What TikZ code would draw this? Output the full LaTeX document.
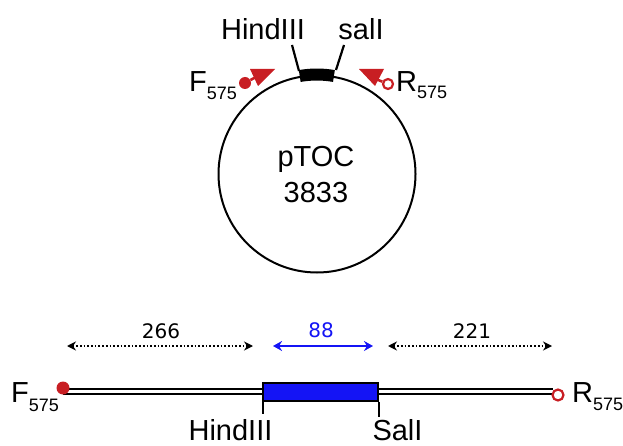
\documentclass[tikz,border=0pt]{standalone}
\usepackage{fontspec}
\setmainfont{Liberation Sans}
\newfontfamily\numfont{DejaVu Sans}
\usetikzlibrary{arrows.meta}
\definecolor{primred}{RGB}{200,30,35}
\definecolor{segblue}{RGB}{20,20,245}
\newcommand\subtxt[2]{\raisebox{-#1pt}{\fontsize{18}{18}\selectfont #2}}
\begin{document}
\begin{tikzpicture}[x=1pt,y=-1pt,
  big/.style={font=\fontsize{29}{29}\selectfont, inner sep=0pt, anchor=base},
  num/.style={font=\numfont\fontsize{20}{20}\selectfont, inner sep=0pt, anchor=base},
  dimarrow/.style={dotted, line width=1.7pt, {Stealth[length=9pt,width=9pt]}-{Stealth[length=9pt,width=9pt]}},
  bluearrow/.style={segblue, line width=2.6pt, {Stealth[length=9pt,width=10pt]}-{Stealth[length=9pt,width=10pt]}},
  siteline/.style={line width=2.2pt},
  primerline/.style={primred, line width=2.6pt},
]
\useasboundingbox (0,0) rectangle (623,446);

% ---------- plasmid ----------
\node[circle, draw, line width=2pt, minimum size=197pt, inner sep=0pt] (plasmid) at (317,174) {};
\node[big] (ptoc) at (316,167) {pTOC};
\node[big] (size) at (316,203) {3833};
\draw[line width=12pt] (plasmid.100) arc[start angle=100, end angle=80, radius=98.5pt];

\node[big] (hindtop) at (263,40) {HindIII};
\node[big] (saltop) at (361,40) {salI};
\coordinate (h1) at (292,45);
\coordinate (h2) at (299,71);
\coordinate (s1) at (344,45);
\coordinate (s2) at (336,70);
\draw[siteline] (h1) -- (h2);
\draw[siteline] (s1) -- (s2);

% primers on plasmid
\node[big, anchor=base west] (ftop) at (189,92) {F\subtxt{8}{575}};
\node[big, anchor=base west] (rtop) at (396,92) {R\subtxt{7}{575}};
\node[circle, fill=primred, minimum size=12pt, inner sep=0pt] (fdot) at (245,83) {};
\node[circle, draw=primred, line width=2.2pt, fill=white, minimum size=10pt, inner sep=0pt] (rcirc) at (388,84) {};
\coordinate (ftip) at (256,77);
\coordinate (rtip) at (371,77);
\draw[primerline] (fdot) -- (ftip);
\draw[primerline] (rcirc) -- (rtip);
\fill[primred] (250,69) -- (275,69) -- (258,86) -- cycle;
\fill[primred] (359,69) -- (384,69) -- (375,86) -- cycle;

% ---------- linear map ----------
\coordinate (lstart) at (63,391);
\coordinate (lend) at (553,391);
\draw[line width=2pt, double=white, double distance=3pt] (lstart) -- (lend);
\node[draw, line width=1.8pt, fill=segblue, minimum width=115pt, minimum height=18pt, inner sep=0pt] (seg) at (320.5,392) {};
\coordinate (t1) at ([xshift=1pt, yshift=-12pt]seg.south west);
\coordinate (t2) at ([yshift=-15pt]seg.south east);
\draw[line width=1.8pt] ([xshift=1pt]seg.south west) -- (t1);
\draw[line width=1.8pt] (seg.south east) -- (t2);

\node[circle, fill=primred, minimum size=13pt, inner sep=0pt] (fdotb) at (63,388) {};
\node[circle, draw=primred, line width=2.2pt, fill=white, minimum size=11pt, inner sep=0pt] (rcircb) at (558,395) {};

\node[big, anchor=base west] (fbot) at (11,402) {F\subtxt{9}{575}};
\node[big, anchor=base west] (rbot) at (572,402) {R\subtxt{8}{575}};
\node[big] (hindbot) at (230.5,440) {HindIII};
\node[big] (salbot) at (397.5,440) {SalI};

% dimension arrows
\coordinate (d1a) at (67,346);
\coordinate (d1b) at (253,346);
\coordinate (d2a) at (273,346);
\coordinate (d2b) at (373,346);
\coordinate (d3a) at (388,346);
\coordinate (d3b) at (552,346);
\draw[dimarrow] (d1a) -- (d1b);
\draw[bluearrow] (d2a) -- (d2b);
\draw[dimarrow] (d3a) -- (d3b);
\node[num] (n266) at (161,338) {266};
\node[num, text=segblue] (n88) at (321,337) {88};
\node[num] (n221) at (472,338) {221};
\end{tikzpicture}
\end{document}
